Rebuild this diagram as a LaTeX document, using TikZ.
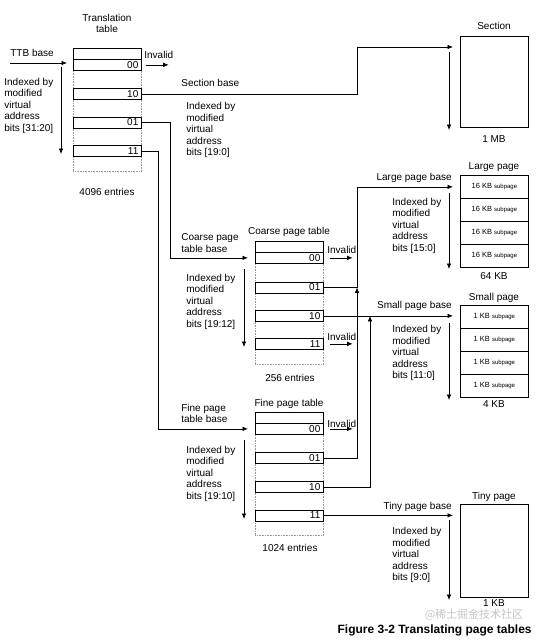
\documentclass[tikz,border=0pt]{standalone}
\usepackage{fontspec}
\setmainfont{Liberation Sans}
\newfontfamily\cjkwm{Noto Sans CJK SC}
\usetikzlibrary{arrows.meta,calc}
\newcommand\subpg{{\fontsize{6}{6}\selectfont subpage}}
\begin{document}
\begin{tikzpicture}[x=1pt,y=-1pt,
  line width=0.7pt,
  arr/.style={-{Latex[length=5.5pt,width=4.5pt]}},
  lbl/.style={inner sep=0pt, font=\fontsize{10}{11.5}\selectfont},
  multi/.style={lbl, align=left, anchor=north west},
  entry/.style={draw, minimum width=68pt, minimum height=11pt, text width=62pt, align=right, inner xsep=3pt, inner ysep=0pt, anchor=north west, font=\fontsize{10}{10}\selectfont, fill=white},
  tablebg/.style={draw=gray!80, densely dotted, line width=0.6pt, minimum width=68pt, anchor=north west, inner sep=0pt},
  page/.style={draw, minimum width=68pt, anchor=north west, inner sep=0pt},
  sub/.style={page, minimum height=23pt, font=\fontsize{7.5}{7.5}\selectfont},
]
\fill[white] (0,0) rectangle (543,641);
\useasboundingbox (0,0) rectangle (543,641);

% ---------- Translation table ----------
\node[tablebg, minimum height=123pt] (tt) at (73,48) {};
\node[entry] (tth) at (73,48) {};
\node[entry] (tt00) at (73,59) {00};
\node[entry] (tt10) at (73,88) {10};
\node[entry] (tt01) at (73,116.5) {01};
\node[entry] (tt11) at (73,145) {11};

\node[lbl, align=center] (ttl) at (107,23.5) {Translation\\table};
\node[lbl, anchor=west] (ttb) at (10,53) {TTB base};
\node[lbl, anchor=west] (inv0) at (144,55) {Invalid};
\node[multi] (idx0) at (4,77.5) {Indexed by\\modified\\virtual\\address\\bits [31:20]};
\node[lbl, anchor=west] (secb) at (181,83) {Section base};
\node[multi] (idx1) at (186,102) {Indexed by\\modified\\virtual\\address\\bits [19:0]};
\node[lbl] (e4096) at (107,192) {4096 entries};

\coordinate (ttbs) at (10,63);
\coordinate (ttbe) at (67,63);
\draw[arr] (ttbs) -- (ttbe);
\draw[arr] ([xshift=4pt]tt00.east) -- ++(23,0);
\coordinate (d0s) at (61,67);
\coordinate (d0e) at (61,154);
\draw[arr] (d0s) -- (d0e);

% ---------- Section ----------
\node[page, minimum height=91pt] (sec) at (460,36) {};
\node[lbl] (secl) at (494,26) {Section};
\node[lbl] (mb1) at (494,139) {1 MB};
\coordinate (secin) at ($(sec.north west)+(-7,11)$);
\coordinate (vx1) at (357,0);
\coordinate (vx2) at (370,0);
\draw[arr] (tt10.east) -| (vx1 |- secin) -- (secin);
\coordinate (d1s) at (449,52);
\coordinate (d1e) at (449,130);
\draw[arr] (d1s) -- (d1e);

% ---------- Coarse page table ----------
\node[tablebg, minimum height=123pt] (cpt) at (255,241) {};
\node[entry] (cpth) at (255,241) {};
\node[entry] (cpt00) at (255,252) {00};
\node[entry] (cpt01) at (255,281.5) {01};
\node[entry] (cpt10) at (255,310) {10};
\node[entry] (cpt11) at (255,338) {11};

\node[lbl] (cptl) at (289,232) {Coarse page table};
\node[multi] (cptb) at (181,233.5) {Coarse page\\table base};
\node[multi] (idx2) at (186,273.5) {Indexed by\\modified\\virtual\\address\\bits [19:12]};
\node[lbl, anchor=west] (inv1) at (327,250) {Invalid};
\node[lbl, anchor=west] (inv2) at (327,337) {Invalid};
\node[lbl] (e256) at (290,378) {256 entries};

\draw[arr] (tt01.east) -| ([xshift=-85pt]cpt00.west) -- ([xshift=-7pt]cpt00.west);
\draw[arr] ([xshift=6pt]cpt00.east) -- ++(23,0);
\draw[arr] ([xshift=6pt]cpt11.east) -- ++(23,0);
\coordinate (d2s) at (244,269);
\coordinate (d2e) at (244,347);
\draw[arr] (d2s) -- (d2e);

% ---------- Fine page table ----------
\node[tablebg, minimum height=123pt] (fpt) at (255,412) {};
\node[entry] (fpth) at (255,412) {};
\node[entry] (fpt00) at (255,423) {00};
\node[entry] (fpt01) at (255,452) {01};
\node[entry] (fpt10) at (255,481) {10};
\node[entry] (fpt11) at (255,509.5) {11};

\node[lbl] (fptl) at (289,404) {Fine page table};
\node[multi] (fptb) at (181,403.5) {Fine page\\table base};
\node[multi] (idx3) at (186,445.5) {Indexed by\\modified\\virtual\\address\\bits [19:10]};
\node[lbl, anchor=west] (inv3) at (327,424) {Invalid};
\node[lbl] (e1024) at (290,548) {1024 entries};

\draw[arr] (tt11.east) -| ([xshift=-97pt]fpt00.west) -- ([xshift=-7pt]fpt00.west);
\draw[arr] ([xshift=6pt]fpt00.east) -- ++(23,0);
\coordinate (d3s) at (244,440);
\coordinate (d3e) at (244,519);
\draw[arr] (d3s) -- (d3e);

% ---------- Large page ----------
\node[sub] (lp1) at (460,175) {16 KB \subpg};
\node[sub] (lp2) at (460,198) {16 KB \subpg};
\node[sub] (lp3) at (460,221) {16 KB \subpg};
\node[sub] (lp4) at (460,244) {16 KB \subpg};
\node[lbl] (lpl) at (494,167) {Large page};
\node[lbl, anchor=east] (lpb) at (452,178) {Large page base};
\node[multi] (idx4) at (392,197.5) {Indexed by\\modified\\virtual\\address\\bits [15:0]};
\node[lbl] (kb64) at (494,276) {64 KB};
\coordinate (lpin) at ([xshift=-7pt]lp1.west);
\coordinate (d4s) at (449,193);
\coordinate (d4e) at (449,269);
\draw[arr] (d4s) -- (d4e);

% ---------- Small page ----------
\node[sub] (sp1) at (460,305) {1 KB \subpg};
\node[sub] (sp2) at (460,328) {1 KB \subpg};
\node[sub] (sp3) at (460,351) {1 KB \subpg};
\node[sub] (sp4) at (460,374) {1 KB \subpg};
\node[lbl] (spl) at (494,298) {Small page};
\node[lbl, anchor=east] (spb) at (452,306) {Small page base};
\node[multi] (idx5) at (392,325) {Indexed by\\modified\\virtual\\address\\bits [11:0]};
\node[lbl] (kb4) at (494,404) {4 KB};
\coordinate (spin) at ([xshift=-7pt]sp1.west);
\coordinate (d5s) at (449,323);
\coordinate (d5e) at (449,400);
\draw[arr] (d5s) -- (d5e);

% ---------- Tiny page ----------
\node[page, minimum height=93pt] (tp) at (460,504) {};
\node[lbl] (tpl) at (494,497) {Tiny page};
\node[lbl, anchor=east] (tpb) at (452,507) {Tiny page base};
\node[multi] (idx6) at (392,527) {Indexed by\\modified\\virtual\\address\\bits [9:0]};
\node[lbl] (kb1) at (494,603) {1 KB};
\coordinate (tpx) at ([xshift=-7pt]tp.west);
\coordinate (d6s) at (449,520);
\coordinate (d6e) at (449,600);
\draw[arr] (d6s) -- (d6e);

% ---------- connectors to pages ----------
\coordinate (j1) at (vx1 |- cpt01.east);
\coordinate (j2) at (vx2 |- cpt10.east);
\draw[arr] (cpt01.east) -| (vx1 |- lpin) -- (lpin);
\draw[arr] (fpt01.east) -| (j1);
\draw[arr] (cpt10.east) -- (cpt10.east -| spin);
\draw[arr] (fpt10.east) -| (j2);
\draw[arr] (fpt11.east) -- (fpt11.east -| tpx);

% ---------- caption ----------
\node[inner sep=0pt, text=gray!45, font=\cjkwm\fontsize{11}{12}\selectfont] (wm) at (474,615) {@稀土掘金技术社区};
\node[anchor=east, inner sep=0pt, font=\bfseries\fontsize{12}{14}\selectfont] (cap) at (532,630.5) {Figure 3-2 Translating page tables};
\end{tikzpicture}
\end{document}
